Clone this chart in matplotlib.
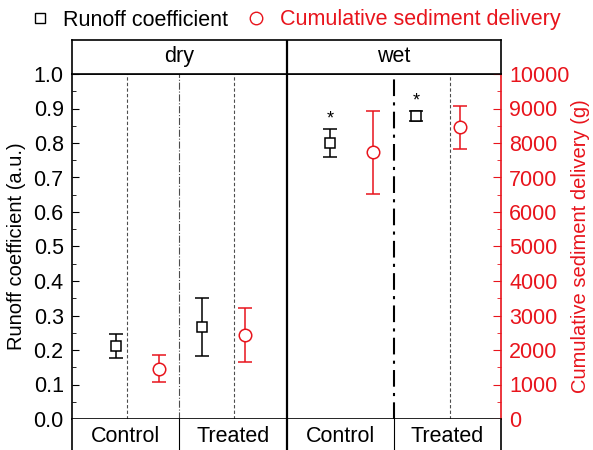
import matplotlib
matplotlib.use("Agg")
import matplotlib.pyplot as plt
from matplotlib.lines import Line2D
from matplotlib.ticker import MultipleLocator, FormatStrFormatter

plt.rcParams['font.family'] = ['Liberation Sans', 'DejaVu Sans']

# groups: dry/Control, dry/Treated, wet/Control, wet/Treated
conditions = ["dry", "wet"]
treatments = ["Control", "Treated", "Control", "Treated"]

runoff_x = [0.41, 1.21, 2.41, 3.21]
runoff = [0.212, 0.266, 0.800, 0.878]
runoff_err = [0.034, 0.084, 0.042, 0.015]
runoff_signif = [False, False, True, True]

sediment_x = [0.81, 1.61, 2.81, 3.62]
sediment = [1460, 2435, 7730, 8460]
sediment_err = [400, 780, 1210, 620]

red = '#e8141c'
fs = 15.5
fs_label = 14.5

fig = plt.figure(figsize=(5.93, 4.5), dpi=100)
W, H = 593.0, 450.0
x0, x1 = 72 / W, 501 / W
y_bot, y_top, y_head = 419, 74, 40

ax = fig.add_axes([x0, 1 - y_bot / H, x1 - x0, (y_bot - y_top) / H])
ax2 = ax.twinx()
head = fig.add_axes([x0, 1 - y_top / H, x1 - x0, (y_top - y_head) / H])
foot = fig.add_axes([x0, 1 - 462 / H, x1 - x0, (462 - y_bot) / H])

# main panel
ax.set_xlim(0, 4)
ax.set_ylim(0, 1)
ax.set_xticks([])
ax.yaxis.set_major_locator(MultipleLocator(0.1))
ax.yaxis.set_minor_locator(MultipleLocator(0.05))
ax.tick_params(axis='y', which='major', direction='in', length=5, labelsize=fs, pad=6)
ax.tick_params(axis='y', which='minor', direction='in', length=3)
ax.yaxis.set_major_formatter(FormatStrFormatter('%.1f'))
ax.set_ylabel("Runoff coefficient (a.u.)", fontsize=fs_label, labelpad=5)
for s in ax.spines.values():
    s.set_linewidth(1.2)
ax.spines['right'].set_visible(False)

ax2.set_ylim(0, 10000)
ax2.yaxis.set_major_locator(MultipleLocator(1000))
ax2.yaxis.set_minor_locator(MultipleLocator(500))
ax2.tick_params(axis='y', which='major', direction='in', length=6, labelsize=fs,
                colors=red, pad=6)
ax2.tick_params(axis='y', which='minor', direction='in', length=3, colors=red)
ax2.spines['right'].set_color(red)
ax2.spines['right'].set_linewidth(1.2)
ax2.spines['left'].set_visible(False)
ax2.spines['top'].set_visible(False)
ax2.spines['bottom'].set_visible(False)
ax2.set_ylabel("Cumulative sediment delivery (g)", fontsize=fs_label, color=red,
               labelpad=1)

# separators inside the panel
ax.axvline(2, color='black', lw=1.6)
ax.axvline(1, color='0.3', lw=0.8, ls='-.')
ax.axvline(3, color='black', lw=1.5, ls=(0, (8, 3, 1.5, 3)))
for xv in [0.51, 1.51, 3.52]:
    ax.axvline(xv, color='0.3', lw=0.8, ls=(0, (3, 2)))

ax.errorbar(runoff_x, runoff, yerr=runoff_err, fmt='s', mfc='white', mec='black',
            ecolor='black', color='black', ms=7, mew=1.1, capsize=5, elinewidth=1.1,
            capthick=1.1, zorder=5)
for xv, v, e, sig in zip(runoff_x, runoff, runoff_err, runoff_signif):
    if sig:
        ax.text(xv, v + e + 0.004, "*", ha='center', va='bottom', fontsize=13)

ax2.errorbar(sediment_x, sediment, yerr=sediment_err, fmt='o', mfc='white', mec=red,
             ecolor=red, color=red, ms=9, mew=1.1, capsize=5, elinewidth=1.1,
             capthick=1.1, zorder=5)

# header with the condition names
head.set_xlim(0, 4)
head.set_ylim(0, 1)
head.set_xticks([])
head.set_yticks([])
for s in head.spines.values():
    s.set_linewidth(1.2)
head.axvline(2, color='black', lw=1.6)
for i, c in enumerate(conditions):
    head.text(2 * i + 1, 0.52, c, ha='center', va='center', fontsize=fs)

# footer with the treatment names
foot.set_xlim(0, 4)
foot.set_ylim(0, 1)
foot.set_xticks([])
foot.set_yticks([])
foot.spines['top'].set_visible(False)
foot.spines['bottom'].set_visible(False)
for s in foot.spines.values():
    s.set_linewidth(1.2)
foot.axvline(2, color='black', lw=1.6)
foot.axvline(1, color='black', lw=0.8)
foot.axvline(3, color='black', lw=0.8)
for i, t in enumerate(treatments):
    foot.text(i + 0.5, 1 - 18 / 43, t, ha='center', va='center', fontsize=fs)

handles = [
    Line2D([], [], ls='none', marker='s', mfc='white', mec='black', ms=7, mew=1.0),
    Line2D([], [], ls='none', marker='o', mfc='white', mec=red, ms=9, mew=1.0),
]
leg = fig.legend(handles, ["Runoff coefficient", "Cumulative sediment delivery"],
                 loc='center', bbox_to_anchor=(0.497, 1 - 20 / H), ncol=2,
                 frameon=False, fontsize=fs, handlelength=1.0, handletextpad=0.6,
                 columnspacing=0.8, borderaxespad=0)
leg.get_texts()[1].set_color(red)

fig.savefig("out.png", dpi=100)
